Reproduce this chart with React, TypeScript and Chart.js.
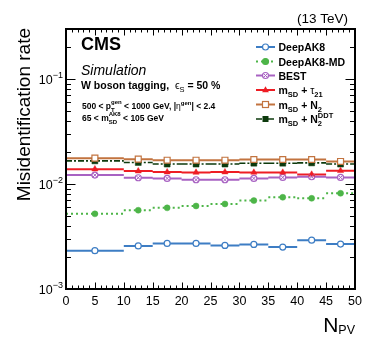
import React, { useEffect, useRef } from 'react';
import { Chart, registerables } from 'chart.js';

Chart.register(...registerables);

// ---------- data ----------
const binEdges = [0, 10, 15, 20, 25, 30, 35, 40, 45, 50];
const deepAK8 = [0.00232, 0.00257, 0.00272, 0.00272, 0.0026, 0.00266, 0.00251, 0.00292, 0.00268];
const deepAK8Err = [0, 0, 0, 0, 0, 0, 0, 0.00012, 0.0001];
const deepAK8MD = [0.0052, 0.00563, 0.00593, 0.00618, 0.00646, 0.00695, 0.00748, 0.00731, 0.00816];
const best = [0.01217, 0.01148, 0.01132, 0.01099, 0.01099, 0.01132, 0.01157, 0.01173, 0.01157];
const tau21 = [0.01387, 0.01328, 0.013, 0.0129, 0.013, 0.0129, 0.0129, 0.01236, 0.01337];
const n2 = [0.01763, 0.01726, 0.01687, 0.01687, 0.01687, 0.01713, 0.01713, 0.01713, 0.0164];
const n2ddt = [0.01663, 0.01604, 0.0155, 0.0155, 0.0155, 0.0158, 0.0158, 0.0159, 0.0155];
const xTicks = [0, 5, 10, 15, 20, 25, 30, 35, 40, 45, 50];
const yDecades = [-3, -2, -1];

const FONT = '"Liberation Sans", Arial, Helvetica, sans-serif';

type Part = { t: string; size: number; bold?: boolean; italic?: boolean; dy?: number; stack?: boolean; family?: string };
type Marker = 'openCircle' | 'circle' | 'crossCircle' | 'triangle' | 'openSquare' | 'square';

interface Series {
  label: Part[];
  values: number[];
  errs?: number[];
  color: string;
  dash: number[];
  width: number;
  marker: Marker;
}

const LS = 10.5;
const SUB = 7.5;

const series: Series[] = [
  { label: [{ t: 'DeepAK8', size: LS, bold: true }], values: deepAK8, errs: deepAK8Err, color: '#3d7dc4', dash: [], width: 2, marker: 'openCircle' },
  { label: [{ t: 'DeepAK8-MD', size: LS, bold: true }], values: deepAK8MD, color: '#4db548', dash: [2, 3], width: 2, marker: 'circle' },
  { label: [{ t: 'BEST', size: LS, bold: true }], values: best, color: '#a862c2', dash: [], width: 2, marker: 'crossCircle' },
  {
    label: [
      { t: 'm', size: LS, bold: true }, { t: 'SD', size: SUB, bold: true, dy: 3 },
      { t: ' + ', size: LS, bold: true }, { t: 'τ', size: LS }, { t: '21', size: SUB, bold: true, dy: 3 },
    ],
    values: tau21, color: '#ee1d24', dash: [], width: 2, marker: 'triangle',
  },
  {
    label: [
      { t: 'm', size: LS, bold: true }, { t: 'SD', size: SUB, bold: true, dy: 3 },
      { t: ' + N', size: LS, bold: true }, { t: '2', size: SUB, bold: true, dy: 3 },
    ],
    values: n2, color: '#c2733f', dash: [], width: 2, marker: 'openSquare',
  },
  {
    label: [
      { t: 'm', size: LS, bold: true }, { t: 'SD', size: SUB, bold: true, dy: 3 },
      { t: ' + N', size: LS, bold: true }, { t: '2', size: SUB, bold: true, dy: 3 },
      { t: 'DDT', size: SUB, bold: true, dy: -5, stack: true },
    ],
    values: n2ddt, color: '#0d3a0d', dash: [6, 2, 2, 2], width: 1.6, marker: 'square',
  },
];

function fontOf(p: Part) {
  return `${p.italic ? 'italic ' : ''}${p.bold ? 'bold ' : ''}${p.size}px ${p.family || FONT}`;
}

function drawRich(ctx: CanvasRenderingContext2D, x: number, y: number, parts: Part[], align: 'left' | 'right' = 'left', color = '#000') {
  const pos: number[] = [];
  let cx = 0, prevStart = 0;
  for (const p of parts) {
    ctx.font = fontOf(p);
    const w = ctx.measureText(p.t).width;
    const start = p.stack ? prevStart : cx;
    pos.push(start);
    const end = start + w;
    cx = p.stack ? Math.max(cx, end) : end;
    prevStart = start;
  }
  const total = cx;
  const ox = align === 'right' ? x - total : x;
  ctx.save();
  ctx.fillStyle = color;
  ctx.textAlign = 'left';
  ctx.textBaseline = 'alphabetic';
  parts.forEach((p, i) => {
    ctx.font = fontOf(p);
    ctx.fillText(p.t, ox + pos[i], y + (p.dy || 0));
  });
  ctx.restore();
}

function drawMarker(ctx: CanvasRenderingContext2D, m: Marker, x: number, y: number, color: string) {
  ctx.save();
  ctx.strokeStyle = color;
  ctx.fillStyle = color;
  ctx.lineWidth = 1.2;
  ctx.setLineDash([]);
  if (m === 'openCircle' || m === 'circle' || m === 'crossCircle') {
    ctx.beginPath();
    ctx.arc(x, y, 3, 0, Math.PI * 2);
    if (m === 'circle') ctx.fill();
    else { ctx.fillStyle = '#fff'; ctx.fill(); }
    ctx.stroke();
    if (m === 'crossCircle') {
      const d = 2.1;
      ctx.beginPath();
      ctx.moveTo(x - d, y - d); ctx.lineTo(x + d, y + d);
      ctx.moveTo(x + d, y - d); ctx.lineTo(x - d, y + d);
      ctx.lineWidth = 1;
      ctx.stroke();
    }
  } else if (m === 'triangle') {
    ctx.beginPath();
    ctx.moveTo(x, y - 3.8); ctx.lineTo(x + 3.4, y + 2.3); ctx.lineTo(x - 3.4, y + 2.3); ctx.closePath();
    ctx.fill();
  } else {
    if (m === 'square') ctx.fillRect(x - 3, y - 3, 6, 6);
    else { ctx.fillStyle = '#fff'; ctx.fillRect(x - 3, y - 3, 6, 6); ctx.strokeRect(x - 3, y - 3, 6, 6); }
  }
  ctx.restore();
}

function segData(vals: number[], errs?: number[]) {
  const pts: { x: number; y: number | null }[] = [];
  vals.forEach((v, i) => {
    pts.push({ x: binEdges[i], y: v }, { x: binEdges[i + 1], y: v }, { x: binEdges[i + 1], y: null });
    if (errs && errs[i] > 0) {
      const c = (binEdges[i] + binEdges[i + 1]) / 2;
      pts.push({ x: c, y: v - errs[i] }, { x: c, y: v + errs[i] }, { x: c, y: null });
    }
  });
  return pts;
}

function centers(vals: number[]) {
  return vals.map((v, i) => ({ x: (binEdges[i] + binEdges[i + 1]) / 2, y: v }));
}

function markerDatasets(s: Series): any[] {
  const base = { type: 'line', showLine: false, data: centers(s.values), order: 0 };
  switch (s.marker) {
    case 'openCircle':
      return [{ ...base, pointStyle: 'circle', pointRadius: 3, pointBackgroundColor: '#fff', pointBorderColor: s.color, pointBorderWidth: 1.2 }];
    case 'circle':
      return [{ ...base, pointStyle: 'circle', pointRadius: 3, pointBackgroundColor: s.color, pointBorderColor: s.color, pointBorderWidth: 0.5 }];
    case 'crossCircle':
      return [
        { ...base, pointStyle: 'circle', pointRadius: 3, pointBackgroundColor: '#fff', pointBorderColor: s.color, pointBorderWidth: 1.2, order: 1 },
        { ...base, pointStyle: 'crossRot', pointRadius: 2.9, pointBackgroundColor: s.color, pointBorderColor: s.color, pointBorderWidth: 1, order: 0 },
      ];
    case 'triangle':
      return [{ ...base, pointStyle: 'triangle', pointRadius: 3.6, pointBackgroundColor: s.color, pointBorderColor: s.color, pointBorderWidth: 0.5 }];
    case 'openSquare':
      return [{ ...base, pointStyle: 'rect', pointRadius: 4.2, pointBackgroundColor: '#fff', pointBorderColor: s.color, pointBorderWidth: 1.2 }];
    default:
      return [{ ...base, pointStyle: 'rect', pointRadius: 4.2, pointBackgroundColor: s.color, pointBorderColor: s.color, pointBorderWidth: 0.5 }];
  }
}

const decorPlugin = {
  id: 'decor',
  afterDatasetsDraw(chart: any) {
    const ctx: CanvasRenderingContext2D = chart.ctx;
    const { left, right, top, bottom } = chart.chartArea;
    const xs = chart.scales.x;
    const ys = chart.scales.y;
    ctx.save();
    ctx.strokeStyle = '#000';
    ctx.lineWidth = 1;
    ctx.beginPath();
    for (let v = 0; v <= 50; v++) {
      const px = Math.round(xs.getPixelForValue(v)) + 0.5;
      const len = v % 5 === 0 ? 6.5 : 3.5;
      ctx.moveTo(px, bottom); ctx.lineTo(px, bottom - len);
      ctx.moveTo(px, top); ctx.lineTo(px, top + len);
    }
    for (let e = -3; e <= -1; e++) {
      for (let k = 1; k <= 9; k++) {
        const v = k * Math.pow(10, e);
        if (v < ys.min || v > ys.max) continue;
        const py = Math.round(ys.getPixelForValue(v)) + 0.5;
        const len = k === 1 ? 9.5 : 5;
        ctx.moveTo(left, py); ctx.lineTo(left + len, py);
        ctx.moveTo(right, py); ctx.lineTo(right - len, py);
      }
    }
    ctx.stroke();
    ctx.lineWidth = 2;
    ctx.strokeRect(left, top, right - left, bottom - top);
    ctx.restore();

    for (const t of xTicks) {
      const px = xs.getPixelForValue(t);
      ctx.save();
      ctx.font = `12.5px ${FONT}`;
      ctx.fillStyle = '#000';
      ctx.textAlign = 'center';
      ctx.textBaseline = 'alphabetic';
      ctx.fillText(String(t), px, 305);
      ctx.restore();
    }
    for (const d of yDecades) {
      const py = ys.getPixelForValue(Math.pow(10, d));
      drawRich(ctx, 63, py + 5, [{ t: '10', size: 12.5 }, { t: '−' + Math.abs(d), size: 9, dy: -6 }], 'right');
    }

    drawRich(ctx, right, 331.5, [{ t: 'N', size: 21 }, { t: 'PV', size: 12.5, dy: 2 }], 'right');
    ctx.save();
    ctx.translate(29.5, 28);
    ctx.rotate(-Math.PI / 2);
    ctx.font = `19px ${FONT}`;
    ctx.fillStyle = '#000';
    ctx.textAlign = 'right';
    ctx.textBaseline = 'alphabetic';
    ctx.fillText('Misidentification rate', 0, 0);
    ctx.restore();

    drawRich(ctx, 348, 22.5, [{ t: '(13 TeV)', size: 13.5 }], 'right');
    drawRich(ctx, 81, 50, [{ t: 'CMS', size: 18, bold: true }]);
    drawRich(ctx, 81, 74.5, [{ t: 'Simulation', size: 14, italic: true }]);
    drawRich(ctx, 81, 89, [
      { t: 'W boson tagging,  ', size: 10.5, bold: true },
      { t: 'ϵ', size: 10.5 }, { t: 'S', size: 7.5, dy: 2.5 },
      { t: ' = 50 %', size: 10.5, bold: true },
    ]);
    drawRich(ctx, 82, 108.5, [
      { t: '500 < p', size: 8.5, bold: true },
      { t: 'T', size: 6, bold: true, dy: 3 },
      { t: 'gen', size: 6, bold: true, dy: -5, stack: true },
      { t: ' < 1000 GeV, |', size: 8.5, bold: true },
      { t: 'η', size: 8.5 },
      { t: 'gen', size: 6, bold: true, dy: -4 },
      { t: '| < 2.4', size: 8.5, bold: true },
    ]);
    drawRich(ctx, 82, 121, [
      { t: '65 < m', size: 8.5, bold: true },
      { t: 'SD', size: 6, bold: true, dy: 3 },
      { t: 'AK8', size: 6, bold: true, dy: -5, stack: true },
      { t: ' < 105 GeV', size: 8.5, bold: true },
    ]);

    const rows = [47, 61.5, 75.5, 90, 104.5, 119];
    series.forEach((s, i) => {
      const y = rows[i];
      ctx.save();
      ctx.strokeStyle = s.color;
      ctx.lineWidth = s.width;
      ctx.setLineDash(s.dash);
      ctx.beginPath();
      ctx.moveTo(256, y); ctx.lineTo(275, y);
      ctx.stroke();
      ctx.restore();
      drawMarker(ctx, s.marker, 265.5, y, s.color);
      drawRich(ctx, 278.5, y + 4, s.label);
    });
  },
};

export default function App() {
  const ref = useRef<HTMLCanvasElement | null>(null);
  useEffect(() => {
    document.body.style.margin = '0';
    const canvas = ref.current;
    if (!canvas) return;
    const lineSets: any[] = series.map((s) => ({
      type: 'line',
      data: segData(s.values, s.errs),
      borderColor: s.color,
      borderWidth: s.width,
      borderDash: s.dash,
      pointRadius: 0,
      spanGaps: false,
      fill: false,
      order: 5,
    }));
    const markSets: any[] = series.flatMap((s) => markerDatasets(s));
    const chart = new Chart(canvas, {
      type: 'line',
      data: { datasets: [...markSets, ...lineSets] },
      options: {
        animation: false,
        responsive: false,
        devicePixelRatio: 1,
        layout: { padding: { left: 66, right: 19, top: 29, bottom: 54 } },
        plugins: { legend: { display: false }, tooltip: { enabled: false } },
        scales: {
          x: { type: 'linear', min: 0, max: 50, display: false },
          y: { type: 'logarithmic', min: 0.001, max: 0.3, display: false },
        },
      } as any,
      plugins: [decorPlugin],
    });
    return () => chart.destroy();
  }, []);
  return <canvas ref={ref} width={374} height={343} style={{ display: 'block' }} />;
}
